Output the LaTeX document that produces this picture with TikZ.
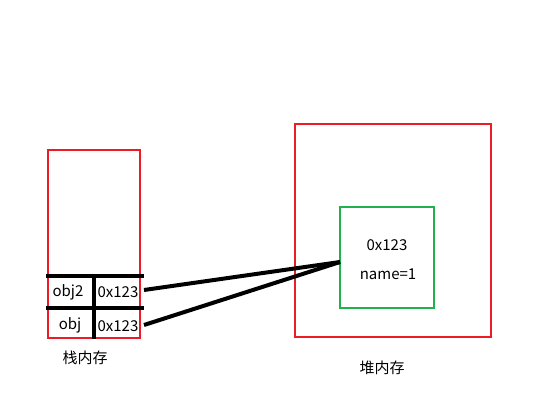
\documentclass[tikz,border=0pt]{standalone}
\usepackage{fontspec}
\setmainfont{Noto Sans CJK SC}
\usepackage{tikz}
\definecolor{paintred}{HTML}{ED1C24}
\definecolor{paintgreen}{HTML}{22B14C}

\begin{document}
\begin{tikzpicture}[x=1pt, y=-1pt, font=\fontsize{15}{17}\selectfont]
  \tikzstyle{box} = [draw, line width = 1.5pt]
  \tikzstyle{bar} = [draw, line width = 4pt]
  \useasboundingbox (0,0) rectangle (538,408);

  \path [box, paintred] (48,150) rectangle (140,338);
  \path [box, paintred] (295,124) rectangle (491,337);
  \path [box, paintgreen] (340,207) rectangle (434,308);

  \coordinate (r1l) at (46,276);
  \coordinate (r1r) at (144,276);
  \coordinate (r2l) at (46,308);
  \coordinate (r2r) at (144,308);
  \coordinate (vt) at (94,276);
  \coordinate (vb) at (94,339);
  \coordinate (p1) at (144,290);
  \coordinate (p2) at (144,325);
  \coordinate (obj) at (340,262);

  \path [bar] (r1l) -- (r1r);
  \path [bar] (r2l) -- (r2r);
  \path [bar] (vt) -- (vb);
  \path [bar] (p1) -- (obj);
  \path [bar] (p2) -- (obj);

  \node (n1) at (68,292) {obj2};
  \node (a1) at (118,292) {0x123};
  \node (n2) at (70,325) {obj};
  \node (a2) at (118,326) {0x123};
  \node (addr) at (387,245) {0x123};
  \node (val) at (388,274) {name=1};
  \node (stack) at (85,358) {栈内存};
  \node (heap) at (382,368) {堆内存};

\end{tikzpicture}
\end{document}
